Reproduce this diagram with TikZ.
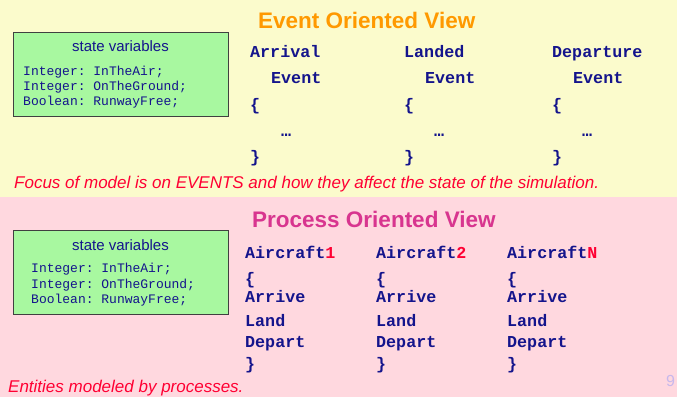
\documentclass[tikz,border=0pt]{standalone}
\usepackage{fontspec}
\setmainfont{Liberation Sans}
\setmonofont{Liberation Mono}
\usetikzlibrary{positioning}
\definecolor{slideyellow}{HTML}{FBFBCC}
\definecolor{slidepink}{HTML}{FFD8DF}
\definecolor{boxgreen}{HTML}{A8F8A0}
\definecolor{codeblue}{HTML}{14148C}
\definecolor{titleorange}{HTML}{FF9900}
\definecolor{titlemagenta}{HTML}{D8358F}
\definecolor{notered}{HTML}{FF0033}
\definecolor{pagenum}{HTML}{C8B8EC}
\tikzstyle{statebox} = [draw=black!75, fill=boxgreen, line width=1pt, rectangle, minimum width=215pt, minimum height=84pt, inner sep=0pt]
\tikzstyle{boxtitle} = [font=\fontsize{15}{18}\selectfont, text=codeblue, anchor=base, inner sep=0pt]
\tikzstyle{boxline} = [font=\ttfamily\fontsize{13}{15}\selectfont, text=codeblue, anchor=base west, inner sep=0pt]
\tikzstyle{code} = [font=\ttfamily\bfseries\fontsize{16.7}{19}\selectfont, text=codeblue, anchor=base west, inner sep=0pt]
\tikzstyle{viewtitle} = [font=\bfseries\fontsize{22.5}{26}\selectfont, anchor=base west, inner sep=0pt]
\tikzstyle{remark} = [font=\itshape\fontsize{17}{20}\selectfont, text=notered, anchor=base west, inner sep=0pt]
\newcommand{\redpart}[1]{\textcolor{notered}{#1}}

\begin{document}
\begin{tikzpicture}[x=1pt, y=-1pt]
  % background of the two halves
  \fill[slideyellow] (0,0) rectangle (677,197);
  \fill[slidepink] (0,197) rectangle (677,397);
  \useasboundingbox (0,0) rectangle (677,397);

  % event oriented view
  \node[viewtitle, text=titleorange] (evtitle) at (258,28) {Event Oriented View};
  \node[statebox] (evbox) at (120.5,74) {};
  \node[boxtitle] (evboxtitle) at (120.5,51) {state variables};
  \node[boxline] (evair) at (23,75) {Integer: InTheAir;};
  \node[boxline] (evground) at (23,90) {Integer: OnTheGround;};
  \node[boxline] (evrunway) at (23,105) {Boolean: RunwayFree;};

  \node[code] (arrival) at (250,57) {Arrival};
  \node[code] (arrivalev) at (271,83) {Event};
  \node[code] (arrivalopen) at (250,110) {\{};
  \node[code] (arrivaldots) at (281,136) {…};
  \node[code] (arrivalclose) at (250,162) {\}};

  \node[code] (landed) at (404,57) {Landed};
  \node[code] (landedev) at (425,83) {Event};
  \node[code] (landedopen) at (404,110) {\{};
  \node[code] (landeddots) at (434,136) {…};
  \node[code] (landedclose) at (404,162) {\}};

  \node[code] (departure) at (552,57) {Departure};
  \node[code] (departureev) at (573,83) {Event};
  \node[code] (departureopen) at (552,110) {\{};
  \node[code] (departuredots) at (582,136) {…};
  \node[code] (departureclose) at (552,162) {\}};

  \node[remark] (evremark) at (14,188) {Focus of model is on EVENTS and how they affect the state of the simulation.};

  % process oriented view
  \node[viewtitle, text=titlemagenta] (prtitle) at (252,227) {Process Oriented View};
  \node[statebox] (prbox) at (120.5,272.5) {};
  \node[boxtitle] (prboxtitle) at (120.5,250) {state variables};
  \node[boxline] (prair) at (31,272) {Integer: InTheAir;};
  \node[boxline] (prground) at (31,288) {Integer: OnTheGround;};
  \node[boxline] (prrunway) at (31,303) {Boolean: RunwayFree;};

  \node[code] (craftone) at (245,258) {Aircraft\redpart{1}};
  \node[code] (craftoneopen) at (245,284) {\{};
  \node[code] (craftonearrive) at (245,302) {Arrive};
  \node[code] (craftoneland) at (245,326) {Land};
  \node[code] (craftonedepart) at (245,347) {Depart};
  \node[code] (craftoneclose) at (245,369) {\}};

  \node[code] (crafttwo) at (376,258) {Aircraft\redpart{2}};
  \node[code] (crafttwoopen) at (376,284) {\{};
  \node[code] (crafttwoarrive) at (376,302) {Arrive};
  \node[code] (crafttwoland) at (376,326) {Land};
  \node[code] (crafttwodepart) at (376,347) {Depart};
  \node[code] (crafttwoclose) at (376,369) {\}};

  \node[code] (craftn) at (507,258) {Aircraft\redpart{N}};
  \node[code] (craftnopen) at (507,284) {\{};
  \node[code] (craftnarrive) at (507,302) {Arrive};
  \node[code] (craftnland) at (507,326) {Land};
  \node[code] (craftndepart) at (507,347) {Depart};
  \node[code] (craftnclose) at (507,369) {\}};

  \node[remark] (prremark) at (8,392) {Entities modeled by processes.};
  \node[font=\fontsize{16}{18}\selectfont, text=pagenum, anchor=base west, inner sep=0pt] (pagenumber) at (666,386) {9};
\end{tikzpicture}
\end{document}
